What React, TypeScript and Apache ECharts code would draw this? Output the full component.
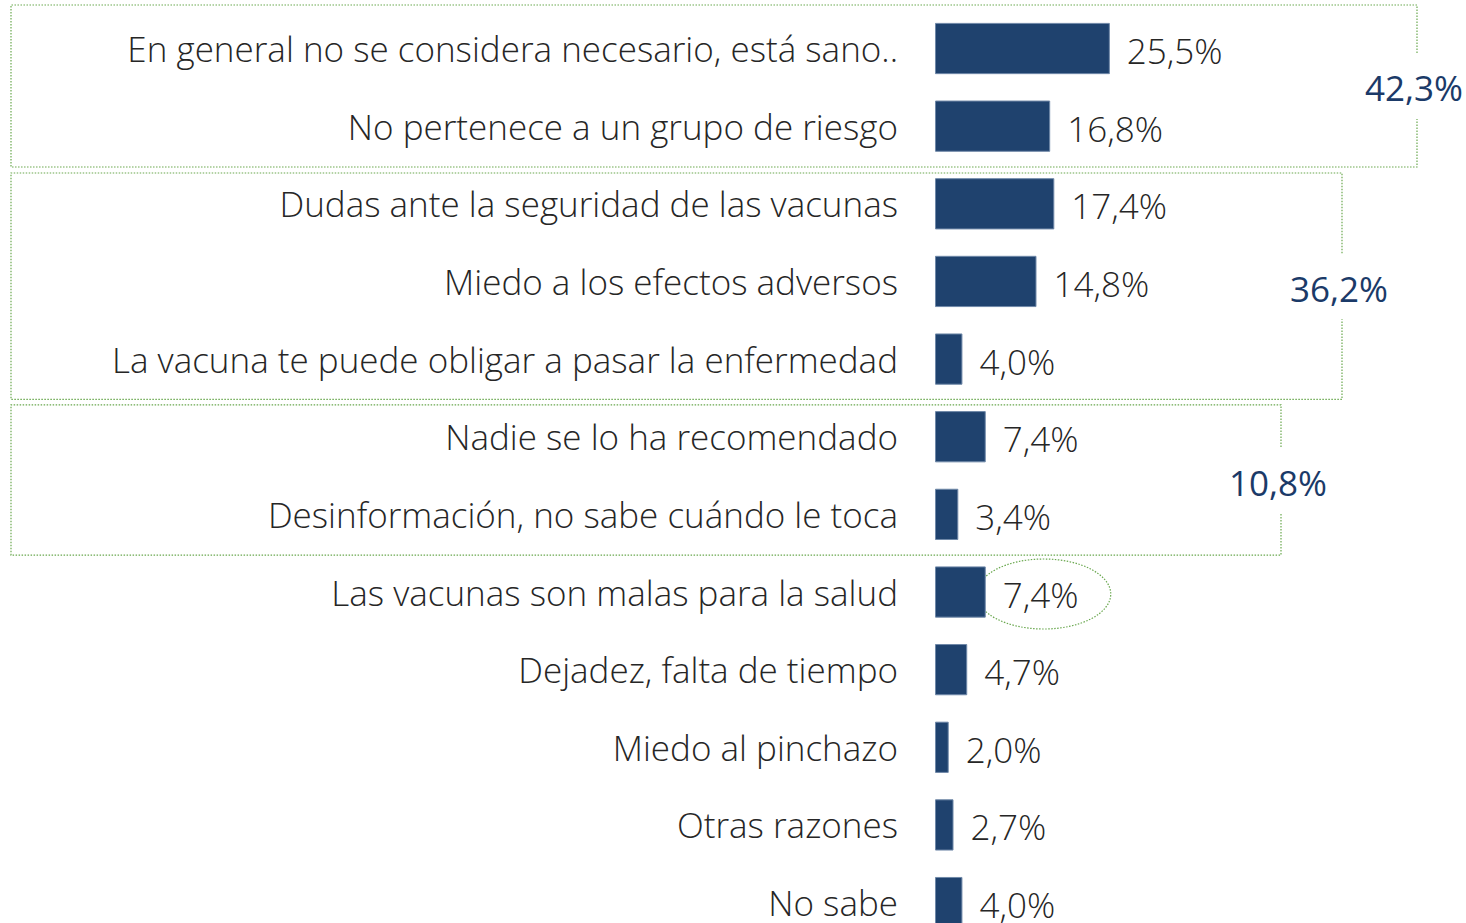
import React, { useEffect, useRef } from "react";
import * as echarts from "echarts";

const categories = [
  "En general no se considera necesario, está sano..",
  "No pertenece a un grupo de riesgo",
  "Dudas ante la seguridad de las vacunas",
  "Miedo a los efectos adversos",
  "La vacuna te puede obligar a pasar la enfermedad",
  "Nadie se lo ha recomendado",
  "Desinformación, no sabe cuándo le toca",
  "Las vacunas son malas para la salud",
  "Dejadez, falta de tiempo",
  "Miedo al pinchazo",
  "Otras razones",
  "No sabe",
];
const values = [25.5, 16.8, 17.4, 14.8, 4.0, 7.4, 3.4, 7.4, 4.7, 2.0, 2.7, 4.0];

const groupLabels = ["42,3%", "36,2%", "10,8%"];
const groupFirst = [0, 2, 5];
const groupLast = [1, 4, 6];
const groupRight = [1417, 1342, 1281];
const highlightIndex = 7;

const FONT = "'Open Sans', 'Noto Sans', sans-serif";
const GREEN = "#6AA84F";

export default function App() {
  const ref = useRef<HTMLDivElement>(null);
  useEffect(() => {
    const chart = echarts.init(ref.current!, null, { renderer: "svg" });
    chart.setOption({
      animation: false,
      grid: { left: 935, top: 9.7, height: 931.7, width: 480, containLabel: false },
      xAxis: {
        type: "value",
        min: 0,
        max: 70,
        show: false,
      },
      yAxis: {
        type: "category",
        inverse: true,
        data: categories,
        axisLine: { show: false },
        axisTick: { show: false },
        splitLine: { show: false },
        axisLabel: {
          margin: 37,
          fontFamily: FONT,
          fontWeight: 300,
          fontSize: 35,
          color: "#262626",
          padding: [0, 0, 12, 0],
        },
      },
      series: [
        {
          type: "bar",
          data: values,
          barCategoryGap: "34%",
          itemStyle: { color: "#1F426E", borderColor: "#6F88A8", borderWidth: 1 },
          label: {
            show: true,
            position: "right",
            distance: 17,
            fontFamily: FONT,
            fontWeight: 300,
            fontSize: 35,
            color: "#262626",
            offset: [0, 2],
            formatter: (p: any) => p.value.toFixed(1).replace(".", ",") + "%",
          },
        },
      ],
    });

    const cy = (i: number) => chart.convertToPixel({ yAxisIndex: 0 }, categories[i]) as number;
    const band = cy(1) - cy(0);
    const graphics: any[] = [];
    const lineStyle = { stroke: GREEN, lineWidth: 1.2, lineDash: [1.5, 1.5], fill: null };
    const topOff = [-4.7, 8, 7];
    const botOff = [2, 1.5, 2];
    for (let g = 0; g < groupLabels.length; g++) {
      const top = cy(groupFirst[g]) - band / 2 + topOff[g];
      const bottom = cy(groupLast[g]) + band / 2 + botOff[g];
      const mid = (top + bottom) / 2;
      const r = groupRight[g];
      graphics.push({
        type: "polyline",
        shape: {
          points: [[r, mid - 33], [r, top], [11, top], [11, bottom], [r, bottom], [r, mid + 33]],
        },
        style: lineStyle,
        silent: true,
      });
      graphics.push({
        type: "text",
        x: r - 3,
        y: mid + 2,
        style: {
          text: groupLabels[g],
          fontFamily: FONT,
          fontSize: 35,
          fontWeight: 400,
          fill: "#1B3A68",
          align: "center",
          verticalAlign: "middle",
        },
      });
    }
    const hx = chart.convertToPixel({ xAxisIndex: 0 }, values[highlightIndex]) as number;
    graphics.push({
      type: "ellipse",
      shape: { cx: hx + 58, cy: cy(highlightIndex) + 2, rx: 67, ry: 35 },
      style: lineStyle,
      silent: true,
    });
    chart.setOption({ graphic: graphics });
    return () => chart.dispose();
  }, []);
  return (
    <div
      style={{ position: "fixed", left: 0, top: 0, width: 1466, height: 923, overflow: "hidden", background: "#fff" }}
    >
      <div ref={ref} style={{ width: 1466, height: 960 }} />
    </div>
  );
}
